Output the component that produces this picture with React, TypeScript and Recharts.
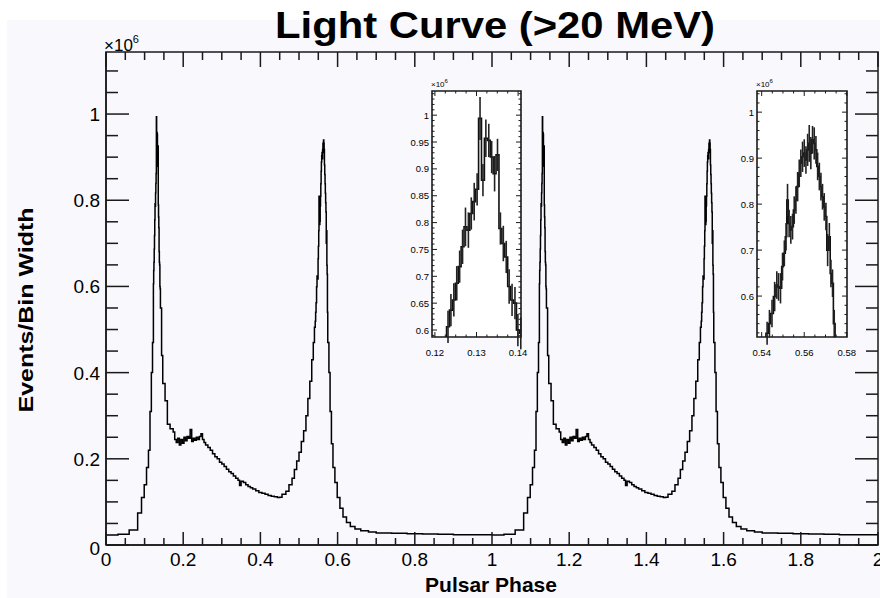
import React from 'react';
import { LineChart, Line, XAxis, YAxis, ReferenceArea, ErrorBar } from 'recharts';

const FONT = '"Liberation Sans", Arial, Helvetica, sans-serif';
const INK = '#1a1a1a';

// ---- Light curve, one rotation (phase 0..1), bin start edges and Events/Bin Width (x10^6)
const risePhases = [0.0, 0.031, 0.06, 0.082, 0.092, 0.099, 0.105, 0.11, 0.114, 0.1175, 0.1205];
const riseValues = [0.023, 0.025, 0.035, 0.074, 0.11, 0.14, 0.18, 0.22, 0.31, 0.4, 0.47];

// fine bins around first peak (also shown in inset 1)
const peak1Edges = [0.1228, 0.1235, 0.1242, 0.1249, 0.1256, 0.1263, 0.127, 0.1277, 0.1284, 0.1291, 0.1298, 0.1305, 0.1312, 0.1319, 0.1326, 0.1333, 0.134, 0.1347, 0.1354, 0.1361, 0.1368, 0.1375, 0.1382, 0.1389, 0.1396, 0.1403];
const peak1Values = [0.606, 0.637, 0.656, 0.687, 0.718, 0.755, 0.792, 0.786, 0.817, 0.839, 0.862, 0.994, 0.879, 0.957, 0.953, 0.922, 0.891, 0.926, 0.789, 0.761, 0.736, 0.681, 0.656, 0.65, 0.6, 0.594];
const peak1Errors = [0.03, 0.03, 0.031, 0.032, 0.03, 0.032, 0.036, 0.033, 0.03, 0.035, 0.03, 0.04, 0.03, 0.035, 0.031, 0.03, 0.033, 0.03, 0.03, 0.033, 0.03, 0.032, 0.03, 0.03, 0.03, 0.03];

const bridgePhases = [0.141, 0.144, 0.147, 0.153, 0.159, 0.166, 0.174, 0.178, 0.182, 0.186, 0.19, 0.194, 0.198, 0.202, 0.206, 0.21, 0.214, 0.218, 0.222, 0.226, 0.23, 0.234, 0.238, 0.242, 0.246, 0.25, 0.254, 0.258, 0.264, 0.27, 0.276, 0.282, 0.288, 0.294, 0.3, 0.306, 0.312, 0.318, 0.324, 0.33, 0.336, 0.342, 0.346, 0.35, 0.356, 0.362, 0.368, 0.374, 0.38, 0.388, 0.396, 0.404, 0.412, 0.42, 0.428, 0.436, 0.444, 0.45, 0.456, 0.466, 0.474, 0.482, 0.488, 0.494, 0.5, 0.506, 0.512, 0.518, 0.523, 0.528, 0.533, 0.537, 0.54];
const bridgeValues = [0.55, 0.44, 0.375, 0.335, 0.28, 0.27, 0.262, 0.245, 0.238, 0.248, 0.232, 0.245, 0.236, 0.25, 0.242, 0.252, 0.248, 0.268, 0.24, 0.248, 0.243, 0.25, 0.245, 0.252, 0.258, 0.245, 0.238, 0.232, 0.226, 0.22, 0.212, 0.205, 0.2, 0.192, 0.188, 0.182, 0.176, 0.17, 0.166, 0.16, 0.155, 0.15, 0.138, 0.148, 0.145, 0.14, 0.136, 0.133, 0.13, 0.126, 0.122, 0.12, 0.118, 0.115, 0.113, 0.112, 0.11, 0.111, 0.118, 0.125, 0.14, 0.155, 0.175, 0.195, 0.215, 0.24, 0.265, 0.3, 0.34, 0.38, 0.43, 0.47, 0.505];

// fine bins around second peak (also shown in inset 2)
const peak2Edges = [0.542, 0.5431, 0.5442, 0.5455, 0.5467, 0.5475, 0.5483, 0.5494, 0.5502, 0.5511, 0.5518, 0.5525, 0.5533, 0.5541, 0.5549, 0.5557, 0.5565, 0.5573, 0.558, 0.5588, 0.5596, 0.5604, 0.5612, 0.562, 0.5627, 0.5635, 0.5643, 0.5651, 0.5659, 0.5667, 0.5675, 0.5682, 0.569, 0.5698, 0.5706, 0.5714, 0.5722, 0.5729, 0.5737];
const peak2Values = [0.519, 0.54, 0.562, 0.599, 0.624, 0.62, 0.617, 0.664, 0.693, 0.729, 0.809, 0.758, 0.744, 0.751, 0.787, 0.809, 0.838, 0.867, 0.889, 0.903, 0.911, 0.896, 0.918, 0.932, 0.911, 0.94, 0.932, 0.918, 0.882, 0.86, 0.838, 0.816, 0.794, 0.773, 0.7, 0.729, 0.649, 0.628, 0.54];
const peak2Errors = [0.025, 0.03, 0.03, 0.032, 0.03, 0.03, 0.033, 0.03, 0.028, 0.03, 0.035, 0.03, 0.03, 0.028, 0.03, 0.03, 0.032, 0.03, 0.03, 0.033, 0.03, 0.03, 0.035, 0.04, 0.035, 0.03, 0.035, 0.03, 0.03, 0.03, 0.03, 0.028, 0.03, 0.03, 0.035, 0.03, 0.03, 0.03, 0.03];

const tailPhases = [0.5745, 0.5775, 0.5805, 0.584, 0.588, 0.593, 0.599, 0.606, 0.614, 0.623, 0.633, 0.645, 0.66, 0.68, 0.7, 0.74, 0.78, 0.82, 0.86, 0.9, 0.95];
const tailValues = [0.47, 0.4, 0.31, 0.235, 0.18, 0.145, 0.11, 0.085, 0.065, 0.052, 0.043, 0.037, 0.033, 0.03, 0.028, 0.027, 0.026, 0.0255, 0.025, 0.024, 0.024];

const xMajorTicks = [0, 0.2, 0.4, 0.6, 0.8, 1, 1.2, 1.4, 1.6, 1.8, 2];
const yMajorTicks = [0, 0.2, 0.4, 0.6, 0.8, 1];
const inset1XMajor = [0.12, 0.13, 0.14];
const inset1YMajor = [0.6, 0.65, 0.7, 0.75, 0.8, 0.85, 0.9, 0.95, 1];
const inset2XMajor = [0.54, 0.56, 0.58];
const inset2YMajor = [0.6, 0.7, 0.8, 0.9, 1];

// ---- assemble tables
const basePhases = [...risePhases, ...peak1Edges, ...bridgePhases, ...peak2Edges, ...tailPhases];
const baseValues = [...riseValues, ...peak1Values, ...bridgeValues, ...peak2Values, ...tailValues];

const mainRows: { x: number; y: number }[] = [];
for (let k = 0; k < 2; k++) {
  basePhases.forEach((p, i) => mainRows.push({ x: p + k, y: baseValues[i] }));
}
mainRows.push({ x: 2, y: baseValues[baseValues.length - 1] });

const oneTurnRows = basePhases.map((p, i) => ({ x: p, y: baseValues[i] }));

function centers(edges: number[], next: number, values: number[], errs: number[]) {
  return edges.map((e, i) => {
    const hi = i + 1 < edges.length ? edges[i + 1] : next;
    return { x: (e + hi) / 2, y: values[i], e: errs[i] };
  });
}
const peak1Centers = centers(peak1Edges, bridgePhases[0], peak1Values, peak1Errors);
const peak2Centers = centers(peak2Edges, tailPhases[0], peak2Values, peak2Errors);

function range(a: number, b: number, step: number) {
  const out: number[] = [];
  const n = Math.round((b - a) / step);
  for (let i = 0; i <= n; i++) out.push(Math.round((a + i * step) * 1e6) / 1e6);
  return out;
}
const isIn = (v: number, arr: number[]) => arr.some((m) => Math.abs(m - v) < 1e-7);
const fmt = (v: number) => String(Math.round(v * 1000) / 1000);

// ---- tick renderers (inward ticks on both sides, ROOT style)
function makeXTick(cfg: { majors: number[]; span: number; maj: number; min: number; omaj: number; omin: number; fs: number; dy: number; sw: number }) {
  return (props: any) => {
    const { x, y, payload } = props;
    const v = payload.value;
    const major = isIn(v, cfg.majors);
    const l = major ? cfg.maj : cfg.min;
    const ol = major ? cfg.omaj : cfg.omin;
    return (
      <g>
        <line x1={x} y1={y} x2={x} y2={y - l} stroke={INK} strokeWidth={cfg.sw} />
        <line x1={x} y1={y - cfg.span} x2={x} y2={y - cfg.span + ol} stroke={INK} strokeWidth={cfg.sw} />
        {major && (
          <text x={x} y={y + cfg.dy} textAnchor="middle" fontSize={cfg.fs} fontFamily={FONT} fill="#000">
            {fmt(v)}
          </text>
        )}
      </g>
    );
  };
}
function makeYTick(cfg: { majors: number[]; span: number; maj: number; min: number; fs: number; dx: number; dy: number; zeroDy?: number; sw: number }) {
  return (props: any) => {
    const { x, y, payload } = props;
    const v = payload.value;
    const major = isIn(v, cfg.majors);
    const l = major ? cfg.maj : cfg.min;
    return (
      <g>
        <line x1={x} y1={y} x2={x + l} y2={y} stroke={INK} strokeWidth={cfg.sw} />
        <line x1={x + cfg.span} y1={y} x2={x + cfg.span - l} y2={y} stroke={INK} strokeWidth={cfg.sw} />
        {major && (
          <text x={x - cfg.dx} y={y + (v === 0 && cfg.zeroDy ? cfg.zeroDy : cfg.dy)} textAnchor="end" fontSize={cfg.fs} fontFamily={FONT} fill="#000">
            {fmt(v)}
          </text>
        )}
      </g>
    );
  };
}

// ---- main chart geometry (plot area 106..878 x 52..545)
const W = 880, H = 598;
const X_AXIS_H = 40, Y_AXIS_W = 60;
const M = { top: 52, right: 2, bottom: 53 - X_AXIS_H, left: 106 - Y_AXIS_W };
const PW = W - 106 - M.right;
const PH = H - M.top - 53;
const Y_MAX = 1.144;

const mainXTick = makeXTick({ majors: xMajorTicks, span: PH, maj: 13, min: 7, omaj: 15, omin: 8, fs: 19, dy: 21, sw: 1.5 });
const mainYTick = makeYTick({ majors: yMajorTicks, span: PW, maj: 23, min: 12, fs: 19, dx: 6, dy: 7, zeroDy: 10, sw: 1.5 });

function Inset(props: {
  left: number; top: number; width: number; height: number; frame: { top: number; right: number; bottom: number; left: number };
  xDomain: [number, number]; yDomain: [number, number];
  xTicks: number[]; yTicks: number[]; xMajor: number[]; yMajor: number[];
  errRows: { x: number; y: number; e: number }[];
}) {
  const AX_H = 25, AX_W = 20;
  const f = props.frame;
  const margin = { top: f.top, right: f.right, bottom: f.bottom - AX_H, left: f.left - AX_W };
  const pw = props.width - f.left - f.right;
  const ph = props.height - f.top - f.bottom;
  const xt = makeXTick({ majors: props.xMajor, span: ph, maj: 5, min: 2.5, omaj: 5, omin: 2.5, fs: 9.5, dy: 19, sw: 1 });
  const yt = makeYTick({ majors: props.yMajor, span: pw, maj: 5, min: 2.5, fs: 9.5, dx: 3, dy: 3.5, sw: 1 });
  return (
    <div style={{ position: 'absolute', left: props.left, top: props.top }}>
      <LineChart width={props.width} height={props.height} margin={margin}>
        <ReferenceArea x1={props.xDomain[0]} x2={props.xDomain[1]} y1={props.yDomain[0]} y2={props.yDomain[1]}
          fill="#ffffff" fillOpacity={1} stroke={INK} strokeWidth={1.6} ifOverflow="visible" />
        <XAxis dataKey="x" type="number" domain={props.xDomain} allowDataOverflow ticks={props.xTicks} interval={0}
          tick={xt} tickLine={false} axisLine={false} height={AX_H} tickSize={0} tickMargin={0} />
        <YAxis type="number" domain={props.yDomain} allowDataOverflow ticks={props.yTicks} interval={0}
          tick={yt} tickLine={false} axisLine={false} width={AX_W} tickSize={0} tickMargin={0} />
        <Line data={oneTurnRows} dataKey="y" type="stepAfter" stroke="#111" strokeWidth={1.6} dot={false} isAnimationActive={false} />
        <Line data={props.errRows} dataKey="y" type="linear" stroke="none" dot={false} isAnimationActive={false}>
          <ErrorBar dataKey="e" width={0} stroke="#222" strokeWidth={1.6} direction="y" />
        </Line>
      </LineChart>
    </div>
  );
}

export default function App() {
  return (
    <div style={{ position: 'absolute', left: 0, top: 0, width: W, height: H, background: '#ffffff', overflow: 'hidden' }}>
      <div style={{ position: 'absolute', left: 7, top: 20, width: W - 7, height: H - 20, background: '#f8f8fd' }} />
      <div style={{ position: 'absolute', left: 0, top: 0 }}>
        <LineChart width={W} height={H} data={mainRows} margin={M}>
          <ReferenceArea x1={0} x2={2} y1={0} y2={Y_MAX} fill="none" stroke={INK} strokeWidth={1.5} ifOverflow="visible" />
          <XAxis dataKey="x" type="number" domain={[0, 2]} allowDataOverflow ticks={range(0, 2, 0.05)} interval={0}
            tick={mainXTick} tickLine={false} axisLine={{ stroke: INK, strokeWidth: 1.5 }} height={X_AXIS_H} tickSize={0} tickMargin={0} />
          <YAxis type="number" domain={[0, Y_MAX]} allowDataOverflow ticks={range(0, 1.1, 0.05)} interval={0}
            tick={mainYTick} tickLine={false} axisLine={{ stroke: INK, strokeWidth: 1.5 }} width={Y_AXIS_W} tickSize={0} tickMargin={0} />
          <Line dataKey="y" type="stepAfter" stroke="#000" strokeWidth={1.5} dot={false} isAnimationActive={false} />
        </LineChart>
      </div>
      <Inset left={405} top={70} width={130} height={300} frame={{ top: 21, right: 14, bottom: 33, left: 27 }}
        xDomain={[0.1193, 0.1407]} yDomain={[0.587, 1.045]}
        xTicks={range(0.12, 0.14, 0.0025)} yTicks={range(0.59, 1.04, 0.01)}
        xMajor={inset1XMajor} yMajor={inset1YMajor} errRows={peak1Centers} />
      <Inset left={735} top={70} width={145} height={300} frame={{ top: 21, right: 33, bottom: 33, left: 22 }}
        xDomain={[0.5378, 0.5801]} yDomain={[0.511, 1.046]}
        xTicks={range(0.54, 0.58, 0.005)} yTicks={range(0.52, 1.04, 0.02)}
        xMajor={inset2XMajor} yMajor={inset2YMajor} errRows={peak2Centers} />
      <svg width={W} height={H} style={{ position: 'absolute', left: 0, top: 0, pointerEvents: 'none' }} fontFamily={FONT}>
        <text x={495} y={38} textAnchor="middle" fontSize={36} fontWeight="bold" fill="#000" textLength={440} lengthAdjust="spacingAndGlyphs">
          Light Curve (&gt;20 MeV)
        </text>
        <text transform="translate(33,310) rotate(-90)" textAnchor="middle" fontSize={21} fontWeight="bold" fill="#000" textLength={205} lengthAdjust="spacingAndGlyphs">
          Events/Bin Width
        </text>
        <text x={491} y={592} textAnchor="middle" fontSize={21} fontWeight="bold" fill="#000">Pulsar Phase</text>
        <text x={104} y={51} fontSize={17} fill="#000">×10<tspan dy={-8} fontSize={11}>6</tspan></text>
        <text x={431} y={87} fontSize={8} fill="#000">×10<tspan dy={-4} fontSize={6}>6</tspan></text>
        <text x={756} y={87} fontSize={8} fill="#000">×10<tspan dy={-4} fontSize={6}>6</tspan></text>
      </svg>
    </div>
  );
}
